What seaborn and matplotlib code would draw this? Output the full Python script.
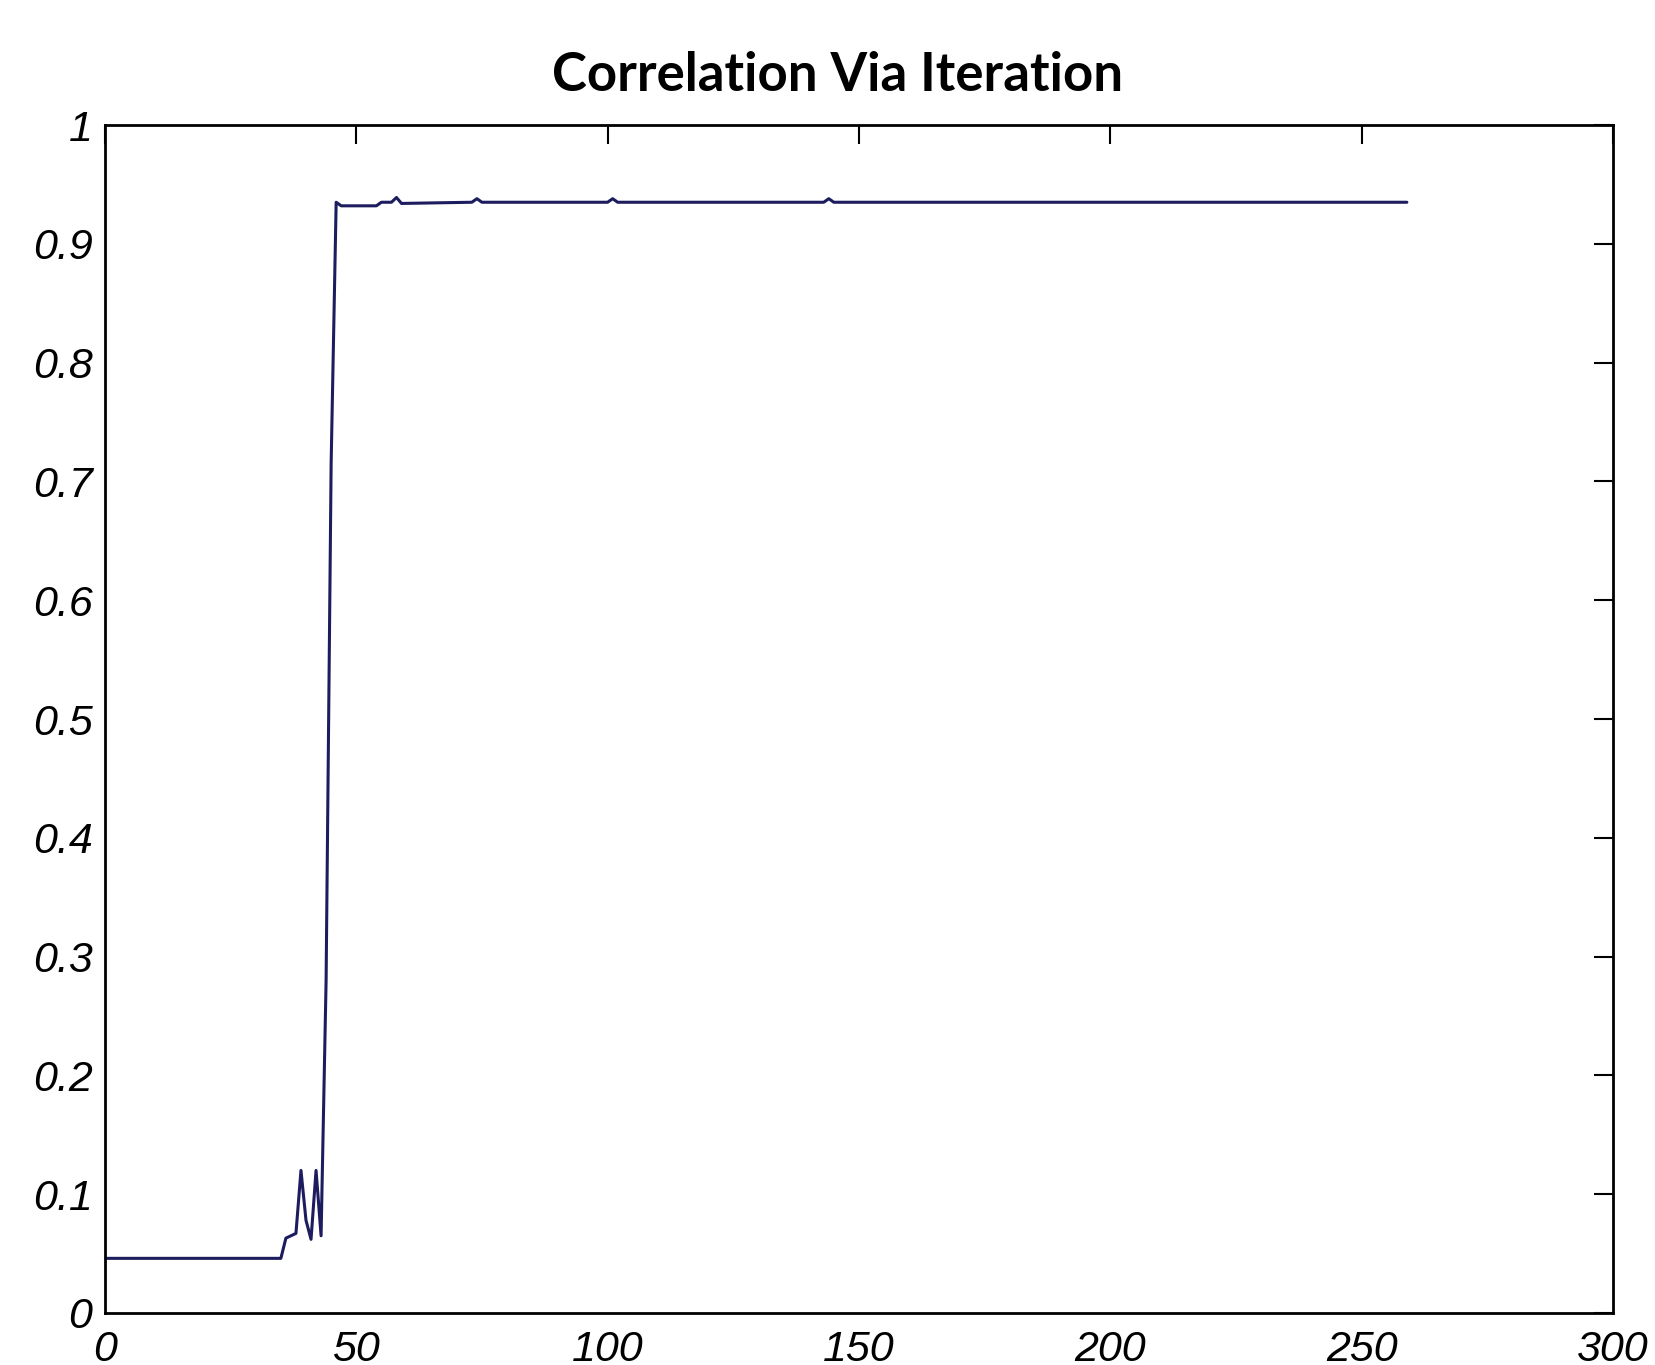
import pandas as pd
import seaborn as sns
import matplotlib.pyplot as plt

# iteration vs correlation, vertices
iteration = [0, 35, 36, 37, 38, 39, 40, 41, 42, 43, 44, 45, 46, 47, 54, 55,
             57, 58, 59, 73, 74, 75, 100, 101, 102, 143, 144, 145, 259]
correlation = [0.046, 0.046, 0.063, 0.065, 0.067, 0.12, 0.078, 0.062, 0.12, 0.065,
               0.28, 0.715, 0.935, 0.932, 0.932, 0.935, 0.935, 0.939, 0.934,
               0.935, 0.938, 0.935, 0.935, 0.938, 0.935, 0.935, 0.938, 0.935, 0.935]

x_ticks = [0, 50, 100, 150, 200, 250, 300]
y_ticks = [0, 0.1, 0.2, 0.3, 0.4, 0.5, 0.6, 0.7, 0.8, 0.9, 1]
y_labels = ['0', '0.1', '0.2', '0.3', '0.4', '0.5', '0.6', '0.7', '0.8', '0.9', '1']

df = pd.DataFrame({'iteration': iteration, 'correlation': correlation})

sns.set_style('white')
plt.rcParams['font.family'] = ['Liberation Sans', 'DejaVu Sans']

fig = plt.figure(figsize=(16.55, 13.65), dpi=100)
ax = fig.add_axes([0.0634, 0.0381, 0.9112, 0.8703])
sns.lineplot(data=df, x='iteration', y='correlation', ax=ax,
             color='#1c1c5e', linewidth=2.2)

ax.set_xlim(0, 300)
ax.set_ylim(0, 1)
ax.set_xticks(x_ticks)
ax.set_yticks(y_ticks)
ax.set_yticklabels(y_labels)
ax.set_xlabel('')
ax.set_ylabel('')
for s in ax.spines.values():
    s.set_color('black')
    s.set_linewidth(2)
ax.tick_params(direction='in', top=True, right=True, length=14, width=1.5,
               labelsize=31, colors='black')
ax.tick_params(axis='y', pad=9)
ax.tick_params(axis='x', pad=12)
for lab in ax.get_xticklabels() + ax.get_yticklabels():
    lab.set_fontstyle('italic')

fig.text(0.506, 0.945, 'Correlation Via Iteration', ha='center', va='center',
         fontsize=38, fontweight='bold', color='black',
         family=['Lato', 'DejaVu Sans'])

fig.savefig('out.png', dpi=100)
plt.close(fig)
